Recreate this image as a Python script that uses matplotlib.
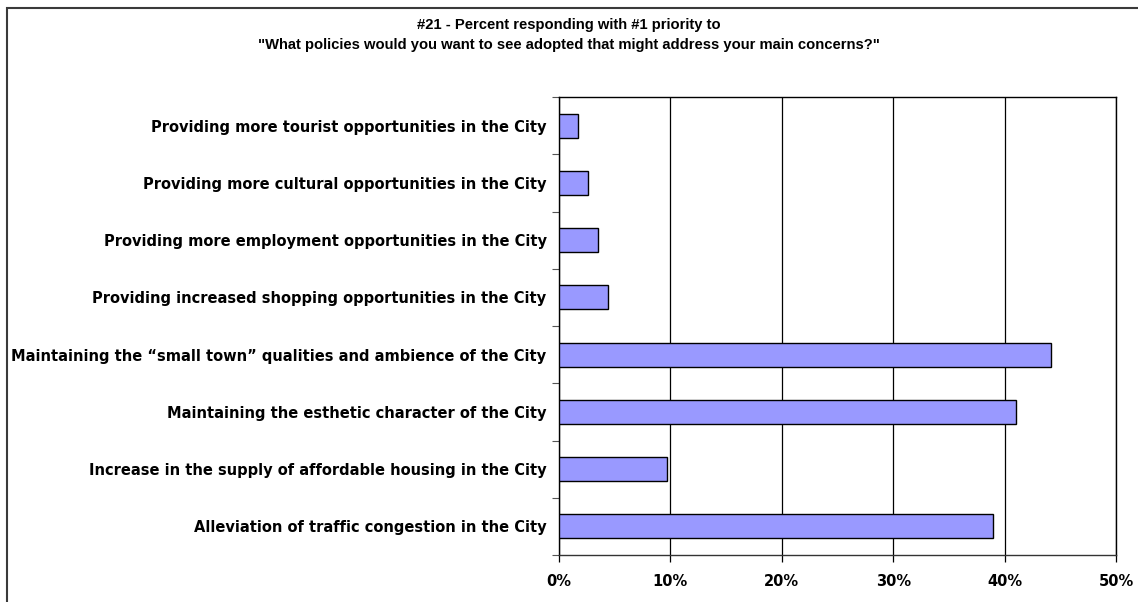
import matplotlib
matplotlib.use("Agg")
import matplotlib.pyplot as plt
from matplotlib.patches import Rectangle
from matplotlib.ticker import PercentFormatter, FixedLocator

categories = [
    "Providing more tourist opportunities in the City",
    "Providing more cultural opportunities in the City",
    "Providing more employment opportunities in the City",
    "Providing increased shopping opportunities in the City",
    "Maintaining the \u201csmall town\u201d qualities and ambience of the City",
    "Maintaining the esthetic character of the City",
    "Increase in the supply of affordable housing in the City",
    "Alleviation of traffic congestion in the City",
]
percent_values = [1.7, 2.6, 3.5, 4.4, 44.2, 41.0, 9.7, 39.0]
x_tick_values = [0, 10, 20, 30, 40, 50]

title_text = ('#21 - Percent responding with #1 priority to\n'
              '"What policies would you want to see adopted that might address your main concerns?"')

plt.rcParams["font.family"] = ["Liberation Sans", "DejaVu Sans"]
label_font = ["DejaVu Sans"]

W, H = 1138, 602
fig = plt.figure(figsize=(W / 100, H / 100), dpi=100)

# outer frame (only top and left edges fall inside the canvas)
frame = Rectangle((7 / W, -0.1), 1.2, (H - 8) / H + 0.1, transform=fig.transFigure,
                  fill=False, edgecolor="#3a3a3a", linewidth=1.5, zorder=0)
fig.patches.append(frame)

left, right, top, bottom = 559, 1116, 97, 555
ax = fig.add_axes([left / W, 1 - bottom / H, (right - left) / W, (bottom - top) / H])

n = len(categories)
ypos = list(range(n))
ax.barh(ypos, percent_values, height=0.42, color="#9999FF", edgecolor="black",
        linewidth=1.0, zorder=3)

ax.set_xlim(0, 50)
ax.set_ylim(n - 0.5, -0.5)

ax.xaxis.set_major_locator(FixedLocator(x_tick_values))
ax.xaxis.set_major_formatter(PercentFormatter(decimals=0))
ax.grid(axis="x", color="black", linewidth=0.9, zorder=1)

ax.set_yticks(ypos)
ax.set_yticklabels(categories)
ax.yaxis.set_minor_locator(FixedLocator([i + 0.5 for i in range(-1, n)]))
ax.tick_params(axis="y", which="major", length=0, pad=9)
ax.tick_params(axis="y", which="minor", length=5, width=0.8, direction="out", color="#555555")
ax.tick_params(axis="x", which="major", length=5, width=0.9, direction="out", pad=9)
for lbl in ax.get_yticklabels() + ax.get_xticklabels():
    lbl.set_fontweight("bold")
    lbl.set_family(label_font)
    lbl.set_fontsize(10.5)

for s in ax.spines.values():
    s.set_color("black")
    s.set_linewidth(1.0)
ax.spines["bottom"].set_color("#333333")

fig.text(0.5, 1 - 35 / H, title_text, ha="center", va="center", fontsize=10.6,
         fontweight="bold", linespacing=1.55)

fig.savefig("out.png", dpi=100)
